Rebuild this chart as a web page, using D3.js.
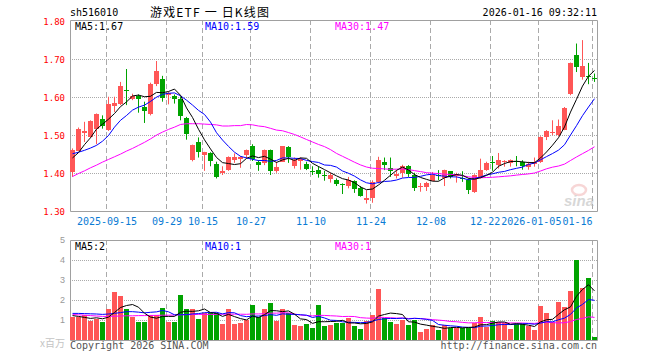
<!DOCTYPE html>
<html>
<head>
<meta charset="utf-8">
<script src="https://cdn.jsdelivr.net/npm/d3@7"></script>
<style>
  body { margin: 0; background: #fff; }
  svg { display: block; }
  text { font-family: "DejaVu Sans Mono", "Liberation Mono", monospace; }
</style>
</head>
<body>
<svg id="chart" width="660" height="360"></svg>
<script>
// ---- data (index 0 = 2025-09-05, last = 2026-01-16) ----
const opens = [1.404,1.460,1.508,1.496,1.516,1.543,1.516,1.577,1.582,1.620,
  1.596,1.603,1.574,1.556,1.634,1.648,1.606,1.605,1.597,1.546,
  1.435,1.482,1.448,1.454,1.426,1.400,1.409,1.435,1.440,1.448,
  1.473,1.430,1.428,1.461,1.407,1.431,1.469,1.419,1.435,1.425,
  1.407,1.410,1.396,1.387,1.382,1.372,1.365,1.380,1.362,1.332,
  1.337,1.376,1.430,1.414,1.396,1.402,1.419,1.396,1.366,1.365,
  1.382,1.397,1.389,1.406,1.395,1.388,1.382,1.352,1.389,1.409,
  1.429,1.422,1.430,1.426,1.434,1.430,1.418,1.425,1.431,1.495,
  1.505,1.501,1.516,1.610,1.711,1.654,1.656,1.652];
const highs = [1.466,1.521,1.536,1.540,1.558,1.553,1.602,1.602,1.641,1.675,
  1.610,1.608,1.589,1.639,1.696,1.657,1.615,1.608,1.602,1.549,
  1.476,1.495,1.457,1.456,1.431,1.419,1.445,1.453,1.446,1.463,
  1.477,1.435,1.463,1.463,1.431,1.472,1.472,1.442,1.442,1.431,
  1.419,1.419,1.407,1.402,1.387,1.374,1.391,1.382,1.367,1.356,
  1.382,1.444,1.442,1.442,1.409,1.423,1.422,1.402,1.375,1.378,
  1.404,1.409,1.410,1.406,1.402,1.406,1.387,1.398,1.439,1.431,
  1.446,1.454,1.435,1.437,1.446,1.435,1.431,1.442,1.498,1.514,
  1.540,1.542,1.575,1.692,1.742,1.751,1.691,1.663];
const lows = [1.391,1.459,1.483,1.494,1.477,1.518,1.512,1.562,1.580,1.580,
  1.593,1.560,1.533,1.553,1.630,1.589,1.582,1.584,1.540,1.489,
  1.432,1.442,1.407,1.419,1.387,1.396,1.407,1.428,1.415,1.440,
  1.433,1.407,1.422,1.396,1.402,1.431,1.428,1.413,1.410,1.409,
  1.396,1.389,1.381,1.376,1.367,1.346,1.361,1.349,1.339,1.321,
  1.323,1.374,1.409,1.391,1.387,1.389,1.391,1.354,1.352,1.354,
  1.380,1.382,1.367,1.387,1.376,1.378,1.346,1.349,1.387,1.407,
  1.407,1.413,1.418,1.418,1.419,1.410,1.410,1.418,1.428,1.488,
  1.501,1.498,1.514,1.606,1.667,1.647,1.635,1.641];
const closes = [1.461,1.517,1.512,1.538,1.556,1.525,1.584,1.586,1.629,1.618,
  1.603,1.596,1.564,1.635,1.669,1.599,1.612,1.596,1.553,1.503,
  1.474,1.456,1.457,1.433,1.391,1.406,1.444,1.444,1.444,1.461,
  1.438,1.422,1.461,1.407,1.417,1.472,1.442,1.435,1.439,1.412,
  1.406,1.400,1.394,1.397,1.372,1.369,1.382,1.360,1.340,1.336,
  1.378,1.435,1.422,1.406,1.400,1.421,1.397,1.362,1.368,1.375,
  1.397,1.395,1.409,1.389,1.397,1.386,1.356,1.396,1.409,1.428,
  1.427,1.435,1.432,1.435,1.432,1.419,1.426,1.431,1.496,1.511,
  1.508,1.525,1.573,1.691,1.679,1.682,1.654,1.650];
// volume, millions
const volumes = [1.15,1.15,1.23,0.97,1.05,0.90,1.57,2.40,2.20,1.55,
  1.15,0.90,0.90,1.23,1.27,1.60,0.90,0.90,2.25,1.55,
  1.55,1.05,1.35,1.35,1.35,0.80,1.55,0.80,0.85,1.02,
  1.77,1.15,1.55,1.87,0.97,1.55,1.33,0.73,0.70,0.80,
  0.60,1.75,0.72,0.75,0.85,0.85,1.10,0.70,0.55,0.93,
  1.25,2.55,1.10,0.90,0.80,1.02,0.73,1.02,0.40,0.55,
  0.73,0.50,0.73,0.60,0.60,0.60,0.60,0.85,1.15,0.63,
  0.97,0.90,0.85,0.57,0.80,0.80,0.68,0.52,1.72,1.35,
  0.90,1.92,1.67,2.43,4.02,2.60,3.10,0.13];

// moving averages at the left edge (their earlier days are off the chart)
const ma5Head = [1.441, 1.455, 1.476, 1.494];
const ma10Head = [1.452, 1.456, 1.461, 1.467, 1.474, 1.485, 1.500, 1.522, 1.540];
const ma30Head = [1.392,1.400,1.407,1.415,1.422,1.430,1.437,1.444,1.451,1.459,
  1.466,1.474,1.482,1.491,1.501,1.509,1.516,1.522,1.529,1.531,
  1.531,1.531,1.530,1.529,1.528,1.525,1.525,1.526,1.526];
const volMa5Head = [1.22, 1.18, 1.13, 1.08];
const volMa10Head = [1.33, 1.33, 1.32, 1.31, 1.30, 1.28, 1.30, 1.33, 1.37];
const volMa30Head = [1.27,1.26,1.24,1.22,1.20,1.18,1.18,1.19,1.20,1.21,
  1.21,1.22,1.22,1.23,1.23,1.24,1.24,1.25,1.26,1.27,
  1.27,1.28,1.28,1.28,1.28,1.29,1.29,1.29,1.29];

const tickIndex = [6, 16, 22, 30, 40, 50, 60, 70, 78, 87];
const tickLabels = ["2025-09-15", "09-29", "10-15", "10-27", "11-10", "11-24", "12-08", "12-22", "2026-01-05", "01-16"];
const priceTicks = [1.30, 1.40, 1.50, 1.60, 1.70, 1.80];
const volTicks = [1, 2, 3, 4, 5];

// ---- setup ----
const svg = d3.select("#chart");
const n = closes.length;
const RED = "#ff5656", GREEN = "#00a300", GRID = "#aaa", FRAME = "#a0a0a0";
const left = 70, right = 597;

const x = d3.scaleLinear().domain([0, n - 1]).range([left, left + 6 * (n - 1)]);
const bw = 5;
const y = d3.scaleLinear().domain([1.30, 1.80]).range([211.5, 21.5]);
const yv = d3.scaleLinear().domain([0, 5]).range([340, 240]);

function movingAvg(vals, len, head) {
  return vals.map((v, i) => i < len - 1 ? head[i] : d3.mean(vals.slice(i - len + 1, i + 1)));
}
const ma5 = movingAvg(closes, 5, ma5Head);
const ma10 = movingAvg(closes, 10, ma10Head);
const ma30 = movingAvg(closes, 30, ma30Head);
const vma5 = movingAvg(volumes, 5, volMa5Head);
const vma10 = movingAvg(volumes, 10, volMa10Head);
const vma30 = movingAvg(volumes, 30, volMa30Head);

const idx = d3.range(n);
const up = i => closes[i] >= opens[i];
const cut2 = v => (Math.floor(v * 100 + 1e-6) / 100).toFixed(2);

// ---- header texts ----
svg.append("text").attr("x", 70).attr("y", 16).attr("font-size", 10).text("sh516010");
svg.append("text").attr("x", 150).attr("y", 17)
  .attr("font-size", 12).attr("textLength", 119).attr("lengthAdjust", "spacing")
  .style("font-family", "'Noto Sans CJK SC', sans-serif")
  .text("游戏ETF 一 日K线图");
svg.append("text").attr("x", right).attr("y", 16).attr("font-size", 10)
  .attr("text-anchor", "end").text("2026-01-16 09:32:11");

// ---- grids ----
const grid = svg.append("g");
grid.selectAll(".hp").data(priceTicks.slice(1, -1)).enter().append("line")
  .attr("x1", left).attr("x2", right)
  .attr("y1", d => Math.floor(y(d)) + 0.5).attr("y2", d => Math.floor(y(d)) + 0.5)
  .attr("stroke", GRID).attr("stroke-dasharray", "1,1");
grid.selectAll(".hv").data(volTicks.slice(0, -1)).enter().append("line")
  .attr("x1", left).attr("x2", right)
  .attr("y1", d => yv(d) + 0.5).attr("y2", d => yv(d) + 0.5)
  .attr("stroke", GRID).attr("stroke-dasharray", "1,1");
[[20, 211], [240, 340]].forEach(([a, b]) => {
  grid.selectAll(null).data(tickIndex).enter().append("line")
    .attr("x1", d => x(d) + 0.5).attr("x2", d => x(d) + 0.5)
    .attr("y1", a).attr("y2", b)
    .attr("stroke", GRID).attr("stroke-dasharray", "5,3");
});

// sina watermark
const wm = svg.append("g").attr("opacity", 0.55);
wm.append("ellipse").attr("cx", 579).attr("cy", 190).attr("rx", 7).attr("ry", 5)
  .attr("fill", "none").attr("stroke", "#f2b5b5").attr("stroke-width", 2.5);
wm.append("text").attr("x", 564).attr("y", 206).attr("font-size", 15)
  .attr("font-style", "italic").attr("font-weight", "bold")
  .style("font-family", "'Liberation Sans', sans-serif")
  .attr("fill", "#b8b8b8").text("sina");

// ---- frames ----
[[20.5, 211.5], [240.5, 340.5]].forEach(([t, b]) => {
  svg.append("path")
    .attr("d", `M${left + 0.5},${t}H${right + 0.5}V${b}H${left + 0.5}Z`)
    .attr("fill", "none").attr("stroke", FRAME);
});

// ---- axes ----
const pAxis = svg.append("g").attr("transform", `translate(${left},0)`)
  .call(d3.axisLeft(y).tickValues(priceTicks).tickSize(0).tickPadding(5).tickFormat(d3.format(".2f")));
pAxis.select(".domain").remove();
pAxis.selectAll("text").attr("fill", "#f00").attr("font-size", 9)
  .style("font-family", "'DejaVu Sans Mono', monospace");

const vAxis = svg.append("g").attr("transform", `translate(${left},0)`)
  .call(d3.axisLeft(yv).tickValues(volTicks).tickSize(0).tickPadding(5).tickFormat(d3.format("d")));
vAxis.select(".domain").remove();
vAxis.selectAll("text").attr("fill", "#999").attr("font-size", 9)
  .style("font-family", "'Liberation Sans', sans-serif");
svg.append("text").attr("x", 65).attr("y", 347).attr("text-anchor", "end")
  .attr("font-size", 10).attr("fill", "#c4c4c4")
  .style("font-family", "'Noto Sans CJK SC', sans-serif").text("x百万");

// date labels: the last one is kept inside the frame, the one before it
// is pushed left so the two sit side by side
const xAxis = svg.append("g").attr("transform", "translate(0,211)")
  .call(d3.axisBottom(x).tickValues(tickIndex).tickSize(0)
    .tickFormat((d, i) => tickLabels[i]));
xAxis.select(".domain").remove();
const charW = 6.02;
const centers = tickIndex.map(d => x(d) + 0.5);
const lastW = tickLabels[tickLabels.length - 1].length * charW;
centers[centers.length - 1] = Math.min(centers[centers.length - 1], 592 - lastW / 2);
for (let i = centers.length - 2; i >= 0; i--) {
  const w = tickLabels[i].length * charW, wn = tickLabels[i + 1].length * charW;
  const maxC = centers[i + 1] - wn / 2 - 1 - w / 2;
  if (centers[i] > maxC) centers[i] = maxC;
}
xAxis.selectAll(".tick").each(function (d, i) {
  d3.select(this).select("text")
    .attr("x", centers[i] - x(d)).attr("y", 14).attr("dy", 0)
    .attr("fill", "#0a7bd4").attr("font-size", 10)
    .style("font-family", "'DejaVu Sans Mono', monospace");
});

// ---- candles ----
const candles = svg.append("g");
candles.selectAll(".wick").data(idx).enter().append("line")
  .attr("x1", i => x(i) + 2.5).attr("x2", i => x(i) + 2.5)
  .attr("y1", i => y(highs[i])).attr("y2", i => y(lows[i]))
  .attr("stroke", i => up(i) ? RED : GREEN);
candles.selectAll(".body").data(idx).enter().append("rect")
  .attr("x", i => x(i)).attr("width", bw)
  .attr("y", i => Math.round(y(Math.max(opens[i], closes[i]))))
  .attr("height", i => Math.max(1, Math.round(Math.abs(y(opens[i]) - y(closes[i])))))
  .attr("fill", i => up(i) ? RED : GREEN);

// ---- volume bars ----
svg.append("g").selectAll("rect").data(idx).enter().append("rect")
  .attr("x", i => x(i)).attr("width", bw)
  .attr("y", i => Math.round(yv(volumes[i])))
  .attr("height", i => 340 - Math.round(yv(volumes[i])))
  .attr("fill", i => up(i) ? RED : GREEN);

// ---- MA lines ----
const lineP = d3.line().x((d, i) => x(i) + 2.5).y(d => y(d));
const lineV = d3.line().x((d, i) => x(i) + 2.5).y(d => yv(d));
const maSets = [
  [ma30, vma30, "#ff00ff"],
  [ma10, vma10, "#0000ff"],
  [ma5, vma5, "#000"]
];
maSets.forEach(([p, v, c]) => {
  svg.append("path").attr("d", lineP(p)).attr("fill", "none").attr("stroke", c).attr("stroke-width", 1);
  svg.append("path").attr("d", lineV(v)).attr("fill", "none").attr("stroke", c).attr("stroke-width", 1);
});

// ---- MA legends ----
const last = n - 1;
const legend = [
  [75, "#000", "MA5:" + cut2(ma5[last]), "MA5:" + Math.floor(vma5[last])],
  [205, "#0000ff", "MA10:" + cut2(ma10[last]), "MA10:" + Math.floor(vma10[last])],
  [335, "#ff00ff", "MA30:" + cut2(ma30[last]), "MA30:" + Math.floor(vma30[last])]
];
legend.forEach(([lx, c, t1, t2]) => {
  svg.append("text").attr("x", lx).attr("y", 30).attr("font-size", 10).attr("fill", c).text(t1);
  svg.append("text").attr("x", lx).attr("y", 250).attr("font-size", 10).attr("fill", c).text(t2);
});

// ---- footer ----
svg.append("text").attr("x", 70).attr("y", 349).attr("font-size", 10).attr("fill", "#555")
  .text("Copyright 2026 SINA.COM");
svg.append("text").attr("x", right).attr("y", 349).attr("font-size", 10).attr("fill", "#555")
  .attr("text-anchor", "end").text("http://finance.sina.com.cn");
</script>
</body>
</html>
